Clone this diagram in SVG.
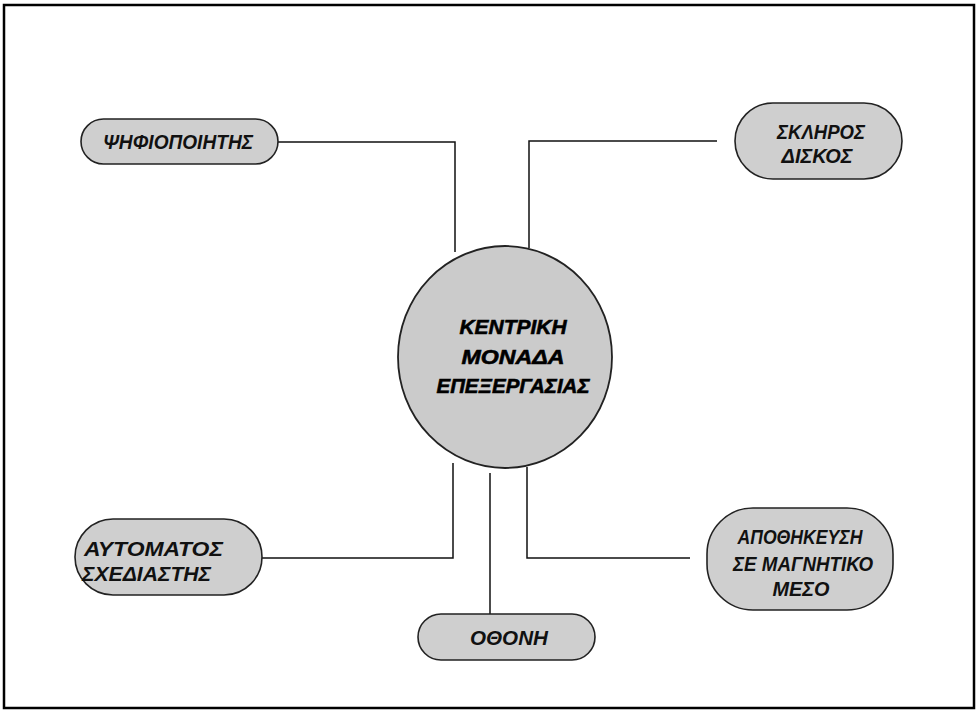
<svg xmlns="http://www.w3.org/2000/svg" width="977" height="711" viewBox="0 0 977 711">
<style>
.pill{fill:#cfcfcf;stroke:#222;stroke-width:1.6}
.hub{fill:#cbcbcb;stroke:#222;stroke-width:1.8}
.lbl{font-family:"Liberation Sans","DejaVu Sans",sans-serif;font-style:italic;font-weight:bold;font-size:20px;fill:#111;text-anchor:middle}
.lbls{text-anchor:start}
.hubt{font-family:"Liberation Sans","DejaVu Sans",sans-serif;font-style:italic;font-weight:bold;font-size:21px;fill:#000;stroke:#000;stroke-width:0.6;text-anchor:middle}
.conn{fill:none;stroke:#111;stroke-width:1.5}
</style>
<rect x="4" y="5" width="970" height="703" fill="#fff" stroke="#000" stroke-width="2.5"/>
<g id="connectors">
<path class="conn" d="M273,142 H455 V252"/>
<path class="conn" d="M717,141 H529 V248"/>
<path class="conn" d="M245,558 H453 V463"/>
<path class="conn" d="M490,473 V614"/>
<path class="conn" d="M690,558 H527 V467"/>
</g>
<g id="cpu">
<ellipse class="hub" cx="505" cy="357" rx="107" ry="111"/>
<text class="hubt" x="513" y="334" textLength="107" lengthAdjust="spacingAndGlyphs">ΚΕΝΤΡΙΚΗ</text>
<text class="hubt" x="513" y="364" textLength="103" lengthAdjust="spacingAndGlyphs">ΜΟΝΑΔΑ</text>
<text class="hubt" x="513" y="393" textLength="153" lengthAdjust="spacingAndGlyphs">ΕΠΕΞΕΡΓΑΣΙΑΣ</text>
</g>
<g id="digitizer">
<rect class="pill" x="81" y="119" width="197" height="45" rx="22.5"/>
<text class="lbl" x="178" y="149" textLength="150" lengthAdjust="spacingAndGlyphs">ΨΗΦΙΟΠΟΙΗΤΗΣ</text>
</g>
<g id="harddisk">
<rect class="pill" x="735" y="103" width="167" height="76" rx="38"/>
<text class="lbl" x="821" y="139" textLength="88" lengthAdjust="spacingAndGlyphs">ΣΚΛΗΡΟΣ</text>
<text class="lbl" x="817" y="163" textLength="71" lengthAdjust="spacingAndGlyphs">ΔΙΣΚΟΣ</text>
</g>
<g id="plotter">
<rect class="pill" x="75" y="519" width="187" height="76" rx="38"/>
<text class="lbl lbls" x="84" y="556" textLength="139" lengthAdjust="spacingAndGlyphs">ΑΥΤΟΜΑΤΟΣ</text>
<text class="lbl lbls" x="82" y="581" textLength="129" lengthAdjust="spacingAndGlyphs">ΣΧΕΔΙΑΣΤΗΣ</text>
</g>
<g id="screen">
<rect class="pill" x="418" y="614" width="177" height="46" rx="23"/>
<text class="lbl" x="509" y="645" textLength="78" lengthAdjust="spacingAndGlyphs">ΟΘΟΝΗ</text>
</g>
<g id="storage">
<rect class="pill" x="707" y="508" width="186" height="102" rx="46"/>
<text class="lbl" x="800" y="544" textLength="125" lengthAdjust="spacingAndGlyphs">ΑΠΟΘΗΚΕΥΣΗ</text>
<text class="lbl" x="803" y="571" textLength="140" lengthAdjust="spacingAndGlyphs">ΣΕ ΜΑΓΝΗΤΙΚΟ</text>
<text class="lbl" x="801" y="596" textLength="57" lengthAdjust="spacingAndGlyphs">ΜΕΣΟ</text>
</g>
</svg>
